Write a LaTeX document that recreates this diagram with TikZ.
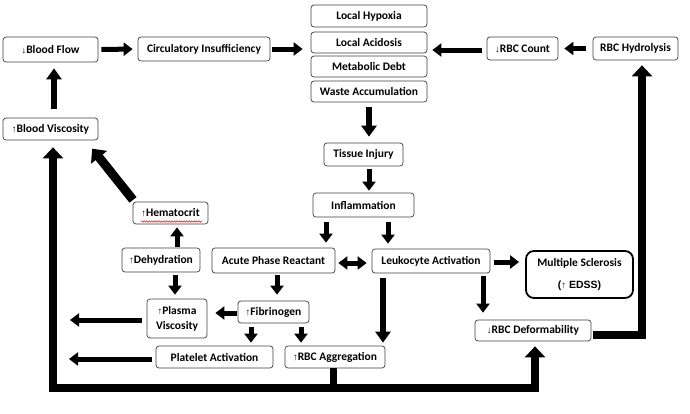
\documentclass[tikz,border=0pt]{standalone}
\usepackage{fontspec}
\setmainfont{Carlito}
\newfontfamily\symf{Liberation Sans}
\newfontfamily\arialf{Liberation Sans}
\usetikzlibrary{arrows.meta,calc,decorations.pathmorphing}
\newcommand\upa{{\symf\mdseries\fontsize{9.5}{9.5}\selectfont ↑}}
\newcommand\dna{{\symf\mdseries\fontsize{9.5}{9.5}\selectfont ↓}}
\tikzset{
  box/.style={draw=black!75, rounded corners=3pt, line width=0.7pt, fill=white,
    font=\bfseries\fontsize{11.5}{15}\selectfont, align=center, inner sep=0pt},
  arr/.style={line width=5pt, -{Triangle[width=13pt,length=9pt]}},
  marr/.style={line width=6.5pt, -{Triangle[width=15pt,length=11pt]}},
  darr/.style={line width=5pt, {Triangle[width=13pt,length=9pt]}-{Triangle[width=13pt,length=9pt]}},
  bigarr/.style={line width=9pt, -{Triangle[width=20pt,length=11pt]}},
  loop/.style={line width=8.5pt, line join=miter,
    {Triangle[width=20pt,length=11pt]}-{Triangle[width=20pt,length=11pt]}},
}
\begin{document}
\begin{tikzpicture}[x=1pt,y=-1pt]
\useasboundingbox (0,0) rectangle (690,413);
% nodes
\node[box, minimum width=95pt, minimum height=25pt] (bf) at (50.5,49.5) {\dna Blood Flow};
\node[box, minimum width=132pt, minimum height=24pt] (ci) at (204,49) {Circulatory Insufficiency};
\node[box, minimum width=116pt, minimum height=22pt] (hyp) at (369,16) {Local Hypoxia};
\node[box, minimum width=116pt, minimum height=21pt] (aci) at (369,42.5) {Local Acidosis};
\node[box, minimum width=116pt, minimum height=21pt] (deb) at (369,66.5) {Metabolic Debt};
\node[box, minimum width=116pt, minimum height=21pt] (was) at (369,91.5) {Waste Accumulation};
\node[box, minimum width=71pt, minimum height=23pt] (rbcc) at (522.5,48.5) {\dna RBC Count};
\node[box, minimum width=85pt, minimum height=23pt] (hyd) at (635.5,48.5) {RBC Hydrolysis};
\node[box, minimum width=95pt, minimum height=22pt] (bv) at (50.5,129) {\upa Blood Viscosity};
\node[box, minimum width=79pt, minimum height=23pt] (ti) at (363.5,154.5) {Tissue Injury};
\node[box, minimum width=101pt, minimum height=24pt] (inf) at (363.5,205) {Inflammation};
\node[box, minimum width=75pt, minimum height=22pt] (hem) at (170.5,213) {\upa Hematocrit};
\node[box, minimum width=78pt, minimum height=24pt] (deh) at (161,260) {\upa Dehydration};
\node[box, minimum width=123pt, minimum height=25pt] (apr) at (273.5,260.5) {Acute Phase Reactant};
\node[box, minimum width=118pt, minimum height=24pt] (leu) at (431,261) {Leukocyte Activation};
\node[box, draw=black, line width=1.8pt, rounded corners=8pt, minimum width=107pt, minimum height=47pt,
  font=\fontsize{11.5}{22}\selectfont] (ms) at (579.5,274.5)
  {\bfseries Multiple Sclerosis\\{\arialf\bfseries\fontsize{10.5}{12}\selectfont(\upa\ EDSS)}};
\node[box, minimum width=60pt, minimum height=39pt] (pv) at (177,318.5) {\upa Plasma\\Viscosity};
\node[box, minimum width=71pt, minimum height=22pt] (fib) at (273.5,312) {\upa Fibrinogen};
\node[box, minimum width=117pt, minimum height=22pt] (pa) at (214.5,357) {Platelet Activation};
\node[box, minimum width=100pt, minimum height=22pt] (rbca) at (335,357) {\upa RBC Aggregation};
\node[box, minimum width=116pt, minimum height=21pt] (rbcd) at (533,330.5) {\dna RBC Deformability};
% spell-check squiggle
\draw[red, line width=0.5pt, decorate, decoration={snake, amplitude=0.7pt, segment length=2.5pt}]
  (141,221.5) -- (202,221.5);
% free ends and loop corners
\coordinate (pvL) at (70,320);
\coordinate (paL) at (69,359);
\coordinate (loopL) at (53,388);
\coordinate (loopR) at (535,388);
\coordinate (rloop) at (642,335);
% arrows
\draw[arr, shorten <=3pt, shorten >=5pt] (bf.east) -- (ci.west);
\draw[arr, shorten <=2pt, shorten >=8pt] (ci.east) -- (ci.east -| aci.west);
\draw[arr, shorten <=5pt, shorten >=5pt] (rbcc.west |- 0,50) -- (aci.east |- 0,50);
\draw[arr, shorten <=7pt, shorten >=6pt] (hyd.west) -- (rbcc.east);
\draw[marr, shorten <=9pt, shorten >=6pt] (54,0 |- bv.north) -- (54,0 |- bf.south);
\draw[marr, shorten <=5pt, shorten >=6pt] (369,0 |- was.south) -- (369,0 |- ti.north);
\draw[arr, shorten <=3pt, shorten >=2pt] (369,0 |- ti.south) -- (369,0 |- inf.north);
\draw[arr, shorten <=5pt, shorten >=5pt] (326,0 |- inf.south) -- (326,0 |- apr.north);
\draw[arr, shorten <=5pt, shorten >=5pt] (388,0 |- inf.south) -- (388,0 |- leu.north);
\draw[darr, shorten <=3pt, shorten >=5pt] (apr.east |- 0,263) -- (leu.west |- 0,263);
\draw[arr, shorten <=4pt, shorten >=6pt] (leu.east |- 0,262) -- (ms.west |- 0,262);
\draw[arr, shorten <=1pt, shorten >=3pt] (177,0 |- deh.north) -- (177,0 |- hem.south);
\draw[arr, shorten <=3pt, shorten >=4pt] (175,0 |- deh.south) -- (175,0 |- pv.north);
\draw[arr, shorten <=2pt, shorten >=6pt] (277,0 |- apr.south) -- (277,0 |- fib.north);
\draw[arr, shorten <=1pt, shorten >=8pt] (fib.west |- 0,313) -- (pv.east |- 0,313);
\draw[arr, shorten <=5pt] (pv.west |- pvL) -- (pvL);
\draw[arr, shorten <=4pt, shorten >=3pt] (251,0 |- fib.south) -- (251,0 |- pa.north);
\draw[arr, shorten <=4pt, shorten >=3pt] (301,0 |- fib.south) -- (301,0 |- rbca.north);
\draw[arr, shorten <=4pt] (pa.west |- paL) -- (paL);
\draw[marr, shorten <=5pt, shorten >=3pt] (383,0 |- leu.south) -- (383,0 |- rbca.north);
\draw[arr, shorten <=3pt, shorten >=7pt] (483,0 |- leu.south) -- (483,0 |- rbcd.north);
\draw[bigarr, shorten <=1pt, shorten >=3pt] ($(hem.north west)+(1,-1)$) -- ($(bv.south east)+(-8,6)$);
% bottom loop
\draw[line width=7pt] (333,0 |- rbca.south) -- (333,0 |- loopL);
\draw[loop, shorten <=7pt, shorten >=5pt] (loopL |- bv.south) -- (loopL) -- (loopR) -- (loopR |- rbcd.south);
% right loop
\draw[line width=8pt, line join=miter, -{Triangle[width=20pt,length=11pt]}, shorten <=2pt, shorten >=5pt]
  (rbcd.east |- rloop) -- (rloop) -- (rloop |- hyd.south);
\end{tikzpicture}
\end{document}
